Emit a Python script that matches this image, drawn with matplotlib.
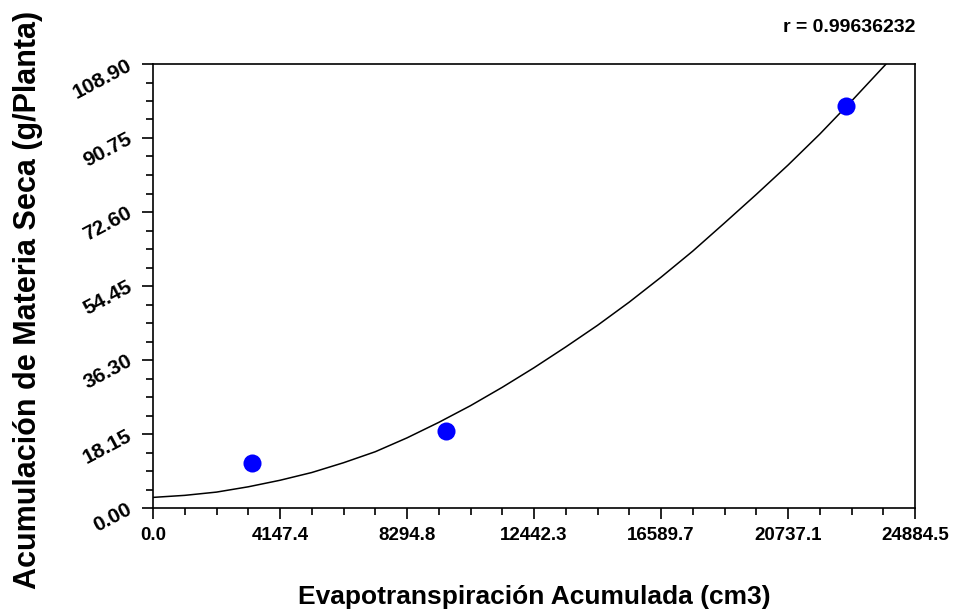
import matplotlib
matplotlib.use("Agg")
import matplotlib.pyplot as plt
from matplotlib.ticker import FixedLocator, MultipleLocator

plt.rcParams['font.family'] = ['Liberation Sans', 'DejaVu Sans']

# Observed points
obs_x = [3223, 9569, 22634]
obs_y = [11.0, 19.0, 98.7]

# Fitted curve
curve_x = [0, 1037, 2074, 3111, 4147, 5184, 6221, 7258, 8295, 9332, 10369, 11405,
           12442, 13479, 14516, 15553, 16590, 17626, 18663, 19700, 20737, 21774,
           22811, 23940]
curve_y = [2.6, 3.1, 3.9, 5.2, 6.8, 8.7, 11.1, 13.8, 17.2, 21.0, 25.1, 29.6,
           34.4, 39.5, 44.8, 50.5, 56.6, 63.0, 69.9, 76.9, 84.1, 91.7,
           99.8, 108.9]

x_ticks = [0.0, 4147.4, 8294.8, 12442.3, 16589.7, 20737.1, 24884.5]
x_tick_labels = ["0.0", "4147.4", "8294.8", "12442.3", "16589.7", "20737.1", "24884.5"]
y_ticks = [0.00, 18.15, 36.30, 54.45, 72.60, 90.75, 108.90]
y_tick_labels = ["0.00", "18.15", "36.30", "54.45", "72.60", "90.75", "108.90"]

r_text = "r = 0.99636232"
x_label = "Evapotranspiración Acumulada (cm3)"
y_label = "Acumulación de Materia Seca (g/Planta)"

fig = plt.figure(figsize=(9.56, 6.11), dpi=100)
ax = fig.add_axes([153/956, 103/611, 762/956, 444/611])

ax.plot(curve_x, curve_y, color='black', lw=1.1, zorder=2)
ax.plot(obs_x, obs_y, 'o', color='#0000FF', markersize=13, markeredgewidth=0, zorder=3)

ax.set_xlim(0, 24884.5)
ax.set_ylim(0, 108.9)

ax.xaxis.set_major_locator(FixedLocator(x_ticks))
ax.set_xticklabels(x_tick_labels, fontsize=13.5, fontweight='bold')
ax.xaxis.set_minor_locator(MultipleLocator(24884.5/24))
ax.yaxis.set_major_locator(FixedLocator(y_ticks))
ax.set_yticklabels(y_tick_labels, fontsize=15, fontweight='bold', rotation=28,
                   rotation_mode='anchor', ha='right', va='center')
ax.yaxis.set_minor_locator(MultipleLocator(108.9/24))

ax.tick_params(which='major', direction='out', length=8, width=1.2, pad=6)
ax.tick_params(which='minor', direction='out', length=5, width=1.2)
ax.tick_params(axis='y', which='major', pad=8)
for s in ax.spines.values():
    s.set_linewidth(1.2)

fig.text(28/956, 1 - 300/611, y_label, rotation=90, ha='center', va='center',
         fontsize=22, fontweight='bold')
fig.text(534/956, 1 - 597/611, x_label, ha='center', va='center',
         fontsize=19, fontweight='bold')
fig.text(915/956, 1 - 28/611, r_text, ha='right', va='center',
         fontsize=14, fontweight='bold')

fig.savefig("out.png", dpi=100)
